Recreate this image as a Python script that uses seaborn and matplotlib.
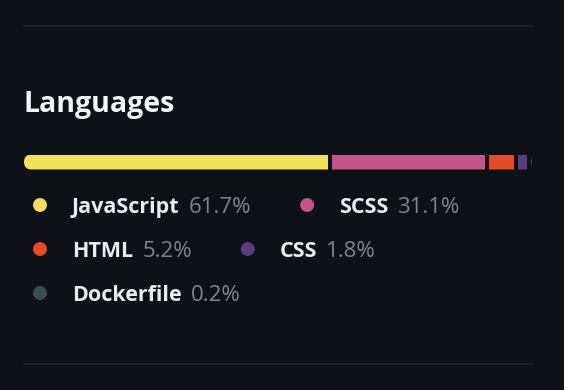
import matplotlib
matplotlib.use('Agg')
import matplotlib.pyplot as plt
import seaborn as sns
import pandas as pd
from matplotlib.patches import FancyBboxPatch

# datos
languages = ['JavaScript', 'SCSS', 'HTML', 'CSS', 'Dockerfile']
shares = [61.7, 31.1, 5.2, 1.8, 0.2]
colors = ['#f1e05a', '#c6538c', '#e34c26', '#563d7c', '#384d54']
title = 'Languages'

bg = '#0f1118'
sns.set_theme(style='dark', rc={'figure.facecolor': bg, 'axes.facecolor': bg})
plt.rcParams['font.family'] = ['Open Sans', 'DejaVu Sans']

# la barra mide 508 px y deja 4 px de hueco entre segmentos
bar_px = 508
gap_px = 4
gap = gap_px * 100 / (bar_px - gap_px * (len(shares) - 1))

df = pd.DataFrame({'language': languages, 'share': shares, 'color': colors})
df['left'] = df['share'].cumsum() - df['share'] + gap * df.index

fig = plt.figure(figsize=(5.64, 3.9), dpi=100)

# eje "de fondo" en pixeles para el layout
ax = fig.add_axes([0, 0, 1, 1])
ax.set_xlim(0, 564)
ax.set_ylim(390, 0)
ax.axis('off')

ax.plot([24, 532], [26, 26], color='#21262d', lw=1.2)
ax.plot([24, 532], [364, 364], color='#21262d', lw=1.2)
ax.text(23, 112, title, fontsize=20.5, color='#f0f6fc', fontweight='bold', va='baseline')

# barra apilada
bar_ax = fig.add_axes([24 / 564, 1 - 169.5 / 390, bar_px / 564, 15 / 390])
bar_ax.set_xlim(0, df['share'].sum() + gap * (len(shares) - 1))
bar_ax.set_ylim(-0.5, 0.5)
bar_ax.axis('off')
bars = bar_ax.barh(0, df['share'], left=df['left'], height=1, color=df['color'], linewidth=0)

clip = FancyBboxPatch((24, 154.5), bar_px, 15, boxstyle='round,pad=0,rounding_size=7.5',
                      facecolor='none', edgecolor='none', transform=ax.transData)
ax.add_patch(clip)
for b in bars:
    b.set_clip_path(clip)

# leyenda en flujo
renderer = fig.canvas.get_renderer()
x0, y = 40, 205
x = x0
right = 532
dots_x, dots_y = [], []
for _, row in df.iterrows():
    t1 = ax.text(0, 0, row['language'], fontsize=15.5, color='#e6edf3', fontweight='bold', va='baseline')
    t2 = ax.text(0, 0, f"{row['share']:.1f}%", fontsize=16, color='#7d8590', va='baseline')
    w1 = t1.get_window_extent(renderer).width
    w2 = t2.get_window_extent(renderer).width
    end = x + 32 + w1 + 9 + w2
    if end > right and x > x0:
        x = x0
        y += 44
        end = x + 32 + w1 + 9 + w2
    t1.set_position((x + 32, y + 8))
    t2.set_position((x + 32 + w1 + 9, y + 8))
    dots_x.append(x)
    dots_y.append(y)
    x = end + 56

sns.scatterplot(x=dots_x, y=dots_y, hue=df['language'].tolist(), palette=dict(zip(languages, colors)),
                s=100, linewidth=0, legend=False, ax=ax)

fig.savefig('out.png', dpi=100, facecolor=bg)
